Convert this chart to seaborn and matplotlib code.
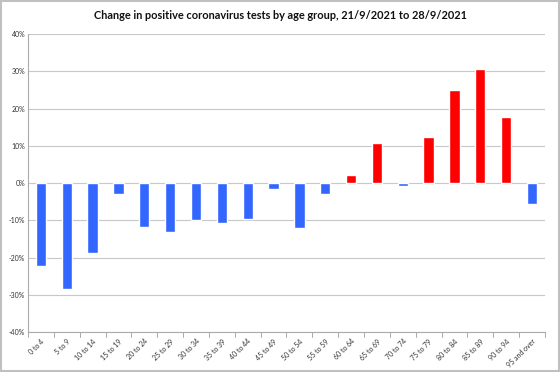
import matplotlib
matplotlib.use("Agg")
import matplotlib.pyplot as plt
import seaborn as sns
import pandas as pd
from matplotlib.patches import Rectangle

age_groups = ["0 to 4", "5 to 9", "10 to 14", "15 to 19", "20 to 24", "25 to 29",
              "30 to 34", "35 to 39", "40 to 44", "45 to 49", "50 to 54", "55 to 59",
              "60 to 64", "65 to 69", "70 to 74", "75 to 79", "80 to 84", "85 to 89",
              "90 to 94", "95 and over"]
change_pct = [-22.1, -28.5, -18.7, -2.9, -11.8, -13.2, -9.8, -10.7, -9.5, -1.6,
              -12.1, -2.8, 2.1, 10.9, -0.8, 12.5, 25.1, 30.6, 17.7, -5.6]
y_ticks = [-40, -30, -20, -10, 0, 10, 20, 30, 40]
title = "Change in positive coronavirus tests by age group, 21/9/2021 to 28/9/2021"

df = pd.DataFrame({"age": age_groups, "change": change_pct})
colors = ["#ff0000" if v > 0 else "#3366ff" for v in change_pct]

sns.set_style("white")
plt.rcParams["font.family"] = ["Lato", "DejaVu Sans"]

fig = plt.figure(figsize=(5.6, 3.72), dpi=100)
ax = fig.add_axes([0.05, 0.107, 0.923, 0.801])

sns.barplot(data=df, x="age", y="change", hue="age", palette=colors,
            legend=False, width=0.4, saturation=1, ax=ax, zorder=3)

ax.set_ylim(-40, 40)
ax.set_xlim(-0.5, len(age_groups) - 0.5)
ax.set_yticks(y_ticks)
ax.set_yticklabels([f"{t}%" for t in y_ticks], fontsize=5, color="#333333")
ax.yaxis.grid(True, color="#c8c8c8", linewidth=0.8, zorder=0)
ax.set_axisbelow(True)
ax.set_xlabel("")
ax.set_ylabel("")

ax.set_xticks(range(len(age_groups)))
ax.set_xticklabels(age_groups, rotation=45, ha="right", rotation_mode="anchor",
                   fontsize=5, color="#333333")
ax.tick_params(axis="x", length=0, pad=4)
for b in [i - 0.5 for i in range(len(age_groups) + 1)]:
    ax.plot([b, b], [-40, -41.2], color="#aaaaaa", linewidth=0.7, clip_on=False)
ax.tick_params(axis="y", length=0, pad=2)

for s in ["top", "right"]:
    ax.spines[s].set_visible(False)
ax.spines["left"].set_color("#aaaaaa")
ax.spines["left"].set_linewidth(0.8)
ax.spines["bottom"].set_color("#aaaaaa")
ax.spines["bottom"].set_linewidth(0.8)

fig.text(0.5, 0.957, title, ha="center", va="center", fontsize=7.9,
         fontweight="bold", color="#111111")

fig.patches.append(Rectangle((0.002, 0.003), 0.996, 0.994, transform=fig.transFigure,
                             fill=False, edgecolor="#c0c0c0", linewidth=1.5))

fig.savefig("out.png", dpi=100)
